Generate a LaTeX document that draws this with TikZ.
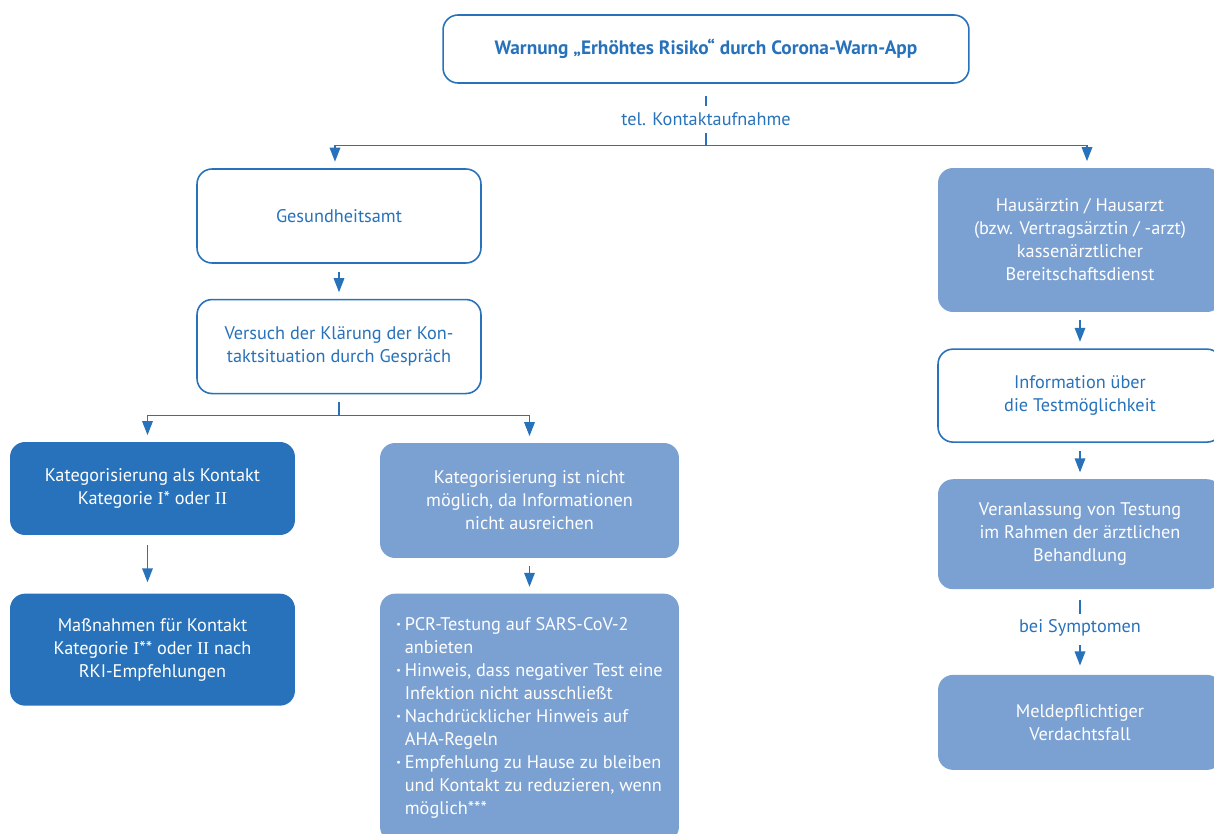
\documentclass[tikz,border=0pt]{standalone}
\usepackage{fontspec}
\setmainfont{PT Sans}
\newfontfamily\romfont{Liberation Serif}
\usetikzlibrary{positioning,arrows.meta}

\definecolor{cblue}{RGB}{39,114,186}
\definecolor{clight}{RGB}{123,160,210}

\newcommand{\itm}{\makebox[0.17cm][l]{\textbf{·}}}
\newcommand{\ind}{\hspace*{0.17cm}}

\begin{document}
\begin{tikzpicture}[x=0.02cm, y=-0.02cm,
	font=\fontsize{10.4}{13.1}\selectfont,
	block/.style = { rectangle, rounded corners=0.3cm, align=center,
	minimum width=5.68cm, minimum height=1.88cm },
	plainbox/.style = { block, draw=cblue, line width=0.9pt, fill=white, text=cblue },
	darkbox/.style = { block, fill=cblue, text=white, minimum width=5.7cm },
	lightbox/.style = { block, fill=clight, text=white },
	lbl/.style = { text=cblue, inner sep=2.5pt, minimum height=0.54cm },
	conn/.style = { draw=cblue, line width=0.9pt },
	arr/.style = { conn, -{Triangle[width=6pt,length=8pt]},
	shorten <=0.16cm, shorten >=0.13cm } ]

  \useasboundingbox (0,0) rectangle (1214,834);

  % top of the chart
  \node [name=warn, plainbox, font=\fontsize{11}{13.1}\selectfont\bfseries,
	minimum width=10.52cm, minimum height=1.36cm] at (706,49)
	{Warnung „Erhöhtes Risiko“ durch Corona-Warn-App};
  \node [name=tel, lbl, below=0.44cm of warn] {tel. Kontaktaufnahme};

  % left branch
  \node [name=gesund, plainbox] at (339,216) {Gesundheitsamt};
  \node [name=versuch, plainbox, below=0.7cm of gesund]
	{Versuch der Klärung der Kon-\\taktsituation durch Gespräch};
  \node [name=katA, darkbox, minimum height=1.86cm] at (152.5,488.5)
	{Kategorisierung als Kontakt\\Kategorie {\romfont I}* oder {\romfont II}};
  \node [name=massn, darkbox, minimum height=2.24cm, below=1.16cm of katA]
	{Maßnahmen für Kontakt\\Kategorie {\romfont I}** oder {\romfont II} nach\\RKI-Empfehlungen};
  \node [name=katB, lightbox, minimum width=5.98cm, minimum height=2.3cm]
	at (529.5,500.5)
	{Kategorisierung ist nicht\\möglich, da Informationen\\nicht ausreichen};
  \node [name=liste, lightbox, align=left, minimum width=5.98cm,
	minimum height=4.96cm, below=0.7cm of katB]
	{\itm PCR-Testung auf SARS-CoV-2\\
	 \ind anbieten\\
	 \itm Hinweis, dass negativer Test eine\\
	 \ind Infektion nicht ausschließt\\
	 \itm Nachdrücklicher Hinweis auf\\
	 \ind AHA-Regeln\\
	 \itm Empfehlung zu Hause zu bleiben\\
	 \ind und Kontakt zu reduzieren, wenn\\
	 \ind möglich***};

  % right branch
  \node [name=haus, lightbox, minimum height=2.88cm] at (1080,240)
	{Hausärztin / Hausarzt\\(bzw. Vertragsärztin / -arzt)\\kassenärztlicher\\Bereitschaftsdienst};
  \node [name=info, plainbox, minimum height=1.86cm, below=0.72cm of haus]
	{Information über\\die Testmöglichkeit};
  \node [name=veran, lightbox, minimum height=2.2cm, below=0.72cm of info]
	{Veranlassung von Testung\\im Rahmen der ärztlichen\\Behandlung};
  \node [name=sympt, lbl, below=0.48cm of veran] {bei Symptomen};
  \node [name=meld, lightbox, minimum height=1.9cm, below=1.7cm of veran]
	{Meldepflichtiger\\Verdachtsfall};

  % connectors
  \draw [conn] ([yshift=-0.24cm]warn.south) -- (tel.north);
  \draw [conn] (tel.south) -- ++(0,12) coordinate (fork1);
  \draw [arr, shorten <=0pt] (fork1) -| ([xshift=-0.08cm]gesund.north);
  \draw [arr, shorten <=0pt] (fork1) -| ([xshift=0.14cm]haus.north);
  \draw [arr] (gesund) -- (versuch);
  \draw [conn] ([yshift=-0.16cm]versuch.south) -- ++(0,13) coordinate (fork2);
  \draw [arr, shorten <=0pt] (fork2) -| ([xshift=-0.1cm]katA.north);
  \draw [arr, shorten <=0pt] (fork2) -| (katB.north);
  \draw [arr, shorten <=0.2cm, shorten >=0.22cm] ([xshift=-0.1cm]katA.south) -- ([xshift=-0.1cm]massn.north);
  \draw [arr] (katB) -- (liste);
  \draw [arr] (haus) -- (info);
  \draw [arr] (info) -- (veran);
  \draw [conn] ([yshift=-0.2cm]veran.south) -- (sympt.north);
  \draw [arr, shorten <=0.08cm, shorten >=0.18cm] (sympt) -- (meld);
\end{tikzpicture}
\end{document}
